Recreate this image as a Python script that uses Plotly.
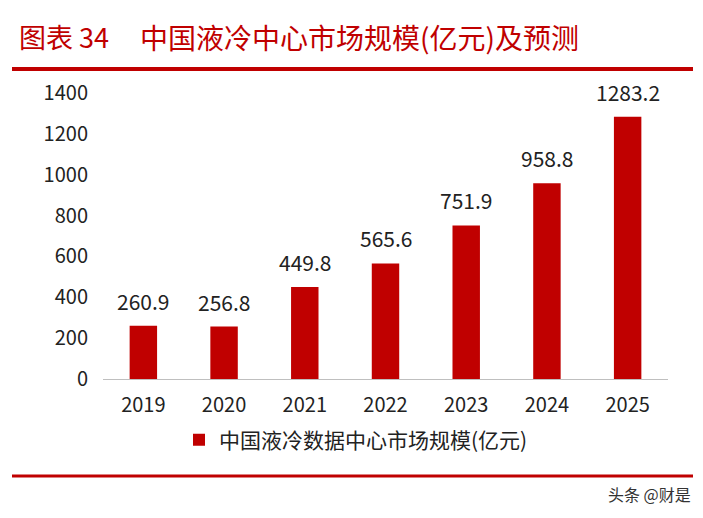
import plotly.graph_objects as go

years = ["2019", "2020", "2021", "2022", "2023", "2024", "2025"]
values = [260.9, 256.8, 449.8, 565.6, 751.9, 958.8, 1283.2]
labels = ["260.9", "256.8", "449.8", "565.6", "751.9", "958.8", "1283.2"]
yticks = [0, 200, 400, 600, 800, 1000, 1200, 1400]

RED = "#C00000"
FONT = "Noto Sans CJK SC"

OFF = 8  # page body margin
L, R, T, B = 103 - OFF, 35 + OFF, 93 - OFF, 139 + OFF
PW = 703 - L - R
PH = 518 - T - B


def px(x):
    return (x - OFF - L) / PW


def py(y):
    return (518 - B - (y - OFF)) / PH


fig = go.Figure()
fig.add_trace(go.Bar(
    x=years, y=values,
    marker=dict(color=RED, line=dict(width=0)),
    name="中国液冷数据中心市场规模(亿元)",
    cliponaxis=False,
))

# value labels placed on the category axis (by category index)
for i, (v, lbl) in enumerate(zip(values, labels)):
    fig.add_annotation(x=i, y=v, xref="x", yref="y", text=lbl, showarrow=False,
                       yanchor="middle", yshift=25,
                       font=dict(size=21, color="#222", family=FONT))

fig.update_layout(
    width=703, height=518,
    margin=dict(l=L, r=R, t=T, b=B, autoexpand=False),
    paper_bgcolor="white", plot_bgcolor="white",
    bargap=0.66,
    font=dict(family=FONT, color="#222"),
    showlegend=True,
    legend=dict(orientation="h", x=px(356), xanchor="center", y=py(440), yanchor="middle",
                font=dict(size=21, family=FONT, color="#222"),
                itemwidth=30),
    xaxis=dict(type="category", range=[-0.5, len(years) - 0.5],
               showline=True, linecolor="#bfbfbf", linewidth=1, ticks="",
               ticklabelstandoff=8,
               tickfont=dict(size=20, family=FONT, color="#222"), showgrid=False),
    yaxis=dict(range=[0, 1400], tickvals=yticks, showgrid=False, zeroline=False,
               showline=False, ticks="", ticklabelstandoff=14,
               tickfont=dict(size=20, family=FONT, color="#222")),
)

fig.add_annotation(text="图表 34",
                   xref="paper", yref="paper", xanchor="left", yanchor="middle",
                   x=px(17), y=py(37),
                   showarrow=False, font=dict(size=27, color=RED, family=FONT))
fig.add_annotation(text="中国液冷中心市场规模(亿元)及预测",
                   xref="paper", yref="paper", xanchor="left", yanchor="middle",
                   x=px(138), y=py(37),
                   showarrow=False, font=dict(size=28, color=RED, family=FONT))
fig.add_annotation(text="头条 @财是",
                   xref="paper", yref="paper", xanchor="right", yanchor="middle",
                   x=px(693), y=py(494),
                   showarrow=False, font=dict(size=16, color="#333", family=FONT))

fig.add_shape(type="line", xref="paper", yref="paper",
              x0=px(12), x1=px(693), y0=py(69), y1=py(69),
              line=dict(color=RED, width=4))
fig.add_shape(type="line", xref="paper", yref="paper",
              x0=px(12), x1=px(693), y0=py(476), y1=py(476),
              line=dict(color=RED, width=3))

fig.write_html("out.html")
